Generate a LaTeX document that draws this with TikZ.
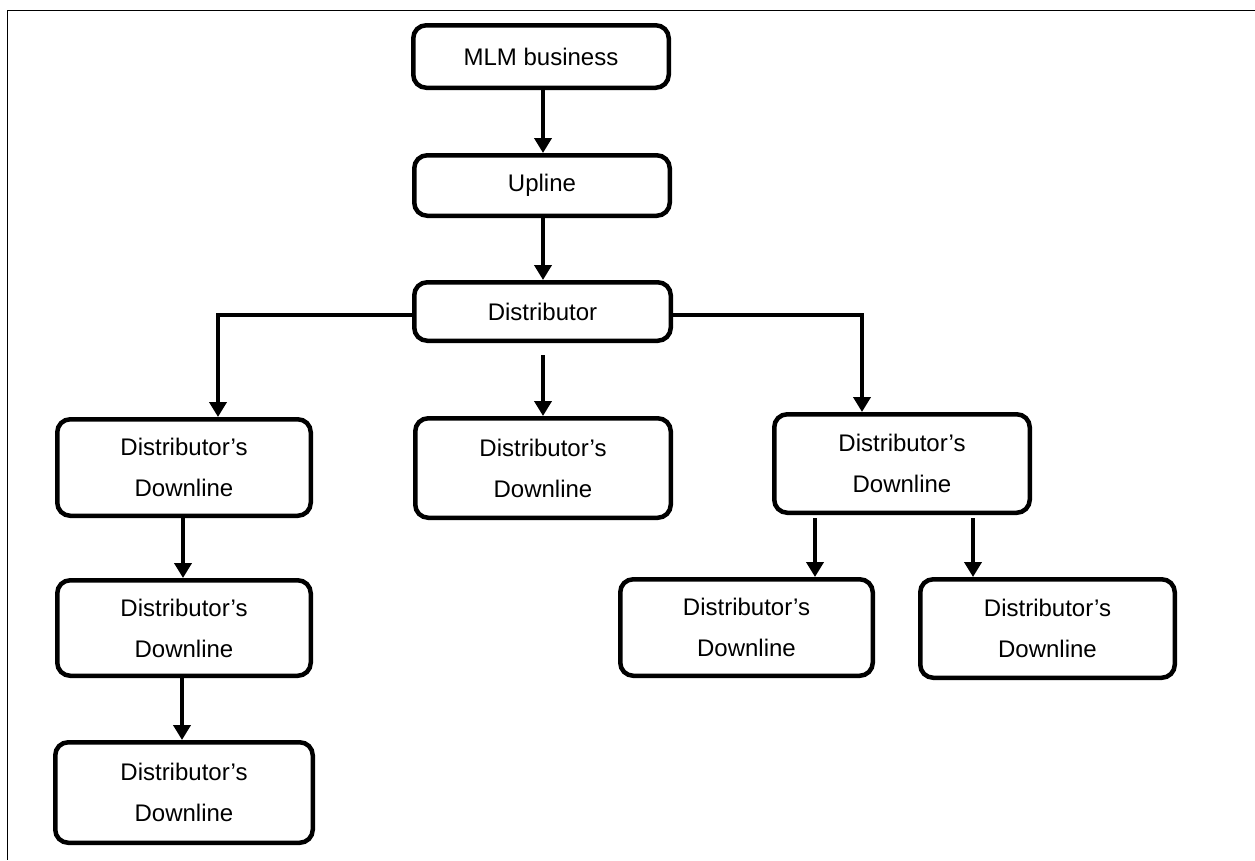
\documentclass[tikz,border=0pt]{standalone}
\usepackage{fontspec}
\setmainfont{Liberation Sans}
\usetikzlibrary{arrows.meta,calc}
\begin{document}
\begin{tikzpicture}[x=1pt,y=-1pt,
  box/.style={draw=black,line width=4.5pt,rounded corners=13pt,align=center,
    font=\fontsize{24}{41}\selectfont,inner sep=0pt,text=black},
  conn/.style={line width=4.5pt,-{Triangle[width=17pt,length=15pt]}},
  frameline/.style={line width=1.5pt}]
\useasboundingbox (0,0) rectangle (1255,860);
\draw[frameline] (1255,10.5) -- (7.5,10.5) -- (7.5,860);
\node[box,minimum width=255.5pt,minimum height=62.5pt] (mlm) at (541,56.5) {MLM business};
\node[box,minimum width=255.5pt,minimum height=60.5pt] (up) at (542,185.5) {Upline};
\node[box,minimum width=256.5pt,minimum height=58.5pt] (dist) at (542.5,311.5) {Distributor};
\node[box,minimum width=253.5pt,minimum height=96.5pt] (d1) at (184,467.5) {Distributor’s\\Downline};
\node[box,minimum width=255.5pt,minimum height=99.5pt] (dm) at (543,468) {Distributor’s\\Downline};
\node[box,minimum width=255.5pt,minimum height=98.5pt] (dr) at (902,463.5) {Distributor’s\\Downline};
\node[box,minimum width=253.5pt,minimum height=95.5pt] (d2) at (184,628) {Distributor’s\\Downline};
\node[box,minimum width=257.5pt,minimum height=100.5pt] (d3) at (184,792.5) {Distributor’s\\Downline};
\node[box,minimum width=252.5pt,minimum height=96.5pt] (da) at (746.5,627.5) {Distributor’s\\Downline};
\node[box,minimum width=254.5pt,minimum height=98.5pt] (db) at (1047.5,628.5) {Distributor’s\\Downline};
\draw[conn] ($(mlm.south)+(2,0)$) -- ($(up.north)+(1,0)$);
\draw[conn] ($(up.south)+(1,0)$) -- ($(dist.north)+(0.5,0)$);
\draw[conn] ($(dist.west)+(0,3.5)$) -| ($(d1.north)+(34,0)$);
\draw[conn] ($(dist.east)+(0,3.5)$) -| ($(dr.north)+(-40,0)$);
\draw[conn] ($(dist.south)+(0.5,12)$) -- (dm.north);
\draw[conn] ($(d1.south)+(-1,0)$) -- ($(d2.north)+(-1,0)$);
\draw[conn] ($(d2.south)+(-2,0)$) -- ($(d3.north)+(-2,0)$);
\draw[conn] ($(dr.south)+(-87,3)$) -- ($(da.north)+(68.5,0)$);
\draw[conn] ($(dr.south)+(71,3)$) -- ($(db.north)+(-74.5,0)$);
\end{tikzpicture}
\end{document}
